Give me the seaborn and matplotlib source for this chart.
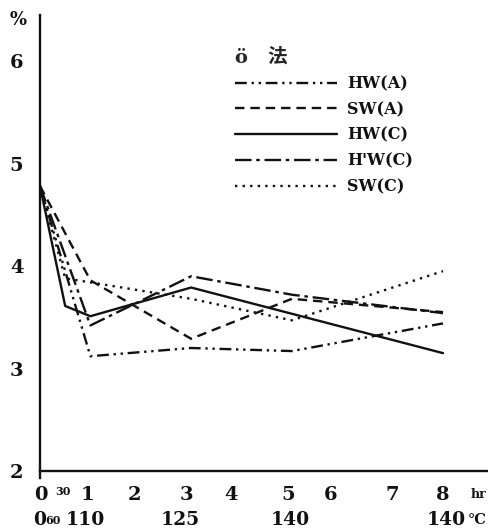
import numpy as np
import pandas as pd
import matplotlib
matplotlib.use("Agg")
import matplotlib.pyplot as plt
import matplotlib.transforms as mtransforms
import seaborn as sns
from matplotlib.font_manager import FontProperties

# ---------------- data ----------------
hours = [0, 0.5, 1, 3, 5, 8]
hw_a = [4.78, np.nan, 3.12, 3.20, 3.17, 3.44]
sw_a = [4.78, np.nan, 3.86, 3.29, 3.68, 3.55]
hw_c = [4.78, 3.61, 3.51, 3.79, np.nan, 3.15]
hw_c2 = [4.78, np.nan, 3.42, 3.90, 3.72, 3.54]
sw_c = [4.78, 3.88, np.nan, 3.68, 3.47, 3.95]
series_names = ["HW(A)", "SW(A)", "HW(C)", "H'W(C)", "SW(C)"]

hr_ticks = [0, 0.5, 1, 2, 3, 4, 5, 6, 7, 8]
hr_labels = ["0", "30", "1", "2", "3", "4", "5", "6", "7", "8"]
temp_pos = [0, 0.5, 1, 3, 5, 8]
temp_labels = ["0", "60", "110", "125", "140", "140"]
y_ticks = [2, 3, 4, 5, 6]
y_labels = ["2", "3", "4", "5", "6"]
legend_title = "ö   法"

# hand-set label nudges of the printed original (pixels)
hr_nudge = [1, -2, -3, -6, -5, -10, -4, -12, 0, 0]
temp_nudge = [0, -12, -5, -11, -2, 3]

# ---------------- style ----------------
sns.set_style("white")
plt.rcParams["font.family"] = ["DejaVu Serif", "Noto Sans CJK JP"]
plt.rcParams["font.weight"] = "bold"

rows = []
for name, vals in zip(series_names, [hw_a, sw_a, hw_c, hw_c2, sw_c]):
    for h, v in zip(hours, vals):
        if not np.isnan(v):
            rows.append((name, h, v))
df = pd.DataFrame(rows, columns=["series", "hr", "pct"])

dashes = {
    "HW(A)": (5, 2, 1, 2, 1, 2),
    "SW(A)": (4, 2.5),
    "HW(C)": "",
    "H'W(C)": (7, 2, 1.5, 2),
    "SW(C)": (1, 2.2),
}

W, H = 489, 532
fig = plt.figure(figsize=(W / 100, H / 100), dpi=100)
ax_left, ax_right, ax_top, ax_bot = 40, 489, 15, 478
ax = fig.add_axes([ax_left / W, 1 - ax_bot / H, (ax_right - ax_left) / W, (ax_bot - ax_top) / H])

ink = "#111111"
sns.lineplot(data=df, x="hr", y="pct", hue="series", style="series",
             hue_order=series_names, style_order=series_names,
             palette=[ink] * 5, dashes=dashes, linewidth=1.7,
             estimator=None, sort=True, ax=ax)

leg = ax.get_legend()
handles = list(leg.legend_handles)
labels = [t.get_text() for t in leg.texts]
leg.remove()
for h in handles:
    h.set_linewidth(1.7)
    h.set_color(ink)

px_per_unit = 102.5
ax.set_ylim(2 - (ax_bot - 471) / px_per_unit, 2 + (471 - ax_top) / px_per_unit)
px_per_hr = 50.375
ax.set_xlim(0, (ax_right - ax_left) / px_per_hr)

for s in ["top", "right"]:
    ax.spines[s].set_visible(False)
for s in ["left", "bottom"]:
    ax.spines[s].set_linewidth(1.7)
    ax.spines[s].set_color(ink)
ax.spines["bottom"].set_position(("data", 2))

ax.set_xlabel("")
ax.set_ylabel("")

ax.set_yticks(y_ticks)
ax.set_yticklabels(y_labels, fontsize=14, fontweight="bold", color=ink)
ax.tick_params(axis="y", length=0, pad=12)
ax.set_xticks(hr_ticks)
ax.set_xticklabels(hr_labels, fontsize=14, fontweight="bold", color=ink)
ax.tick_params(axis="x", length=0, pad=11)
ax.get_xticklabels()[1].set_fontsize(8)
for lab, dx in zip(ax.get_xticklabels(), hr_nudge):
    lab.set_transform(lab.get_transform() + mtransforms.ScaledTranslation(dx / 100, 0, fig.dpi_scale_trans))

# tick mark on "2"
t2 = ax.yaxis.get_major_ticks()[0]
t2.tick1line.set_markersize(14)
t2.tick1line.set_markeredgewidth(1.4)
t2.tick1line.set_color(ink)

xt = ax.get_xaxis_transform()
row2_y = (ax_bot - 520) / (ax_bot - ax_top)
for p, lab, dx in zip(temp_pos, temp_labels, temp_nudge):
    tr = xt + mtransforms.ScaledTranslation(dx / 100, 0, fig.dpi_scale_trans)
    ax.text(p, row2_y, lab, fontsize=8 if lab == "60" else 13.5, fontweight="bold",
            ha="center", va="center", transform=tr, color=ink, clip_on=False)
ax.text((478 - ax_left) / px_per_hr, (ax_bot - 494) / (ax_bot - ax_top), "hr", fontsize=9,
        fontweight="bold", ha="center", va="center", transform=xt, color=ink, clip_on=False)
ax.text((487 - ax_left) / px_per_hr, row2_y, "°C", fontsize=10.5, fontweight="bold",
        ha="right", va="center", transform=xt, color=ink, clip_on=False)

fig.text(18 / W, 1 - 20 / H, "%", fontsize=13, fontweight="bold", ha="center", va="center", color=ink)

title_fp = FontProperties(family=["DejaVu Serif", "Noto Sans CJK JP"], weight="bold", size=14)
lg = ax.legend(handles, labels, title=legend_title, title_fontproperties=title_fp,
               loc="upper left",
               bbox_to_anchor=((235 - ax_left) / (ax_right - ax_left), (ax_bot - 48) / (ax_bot - ax_top)),
               frameon=False, borderpad=0, borderaxespad=0,
               handlelength=6.4, handletextpad=0.6, labelspacing=0.55,
               alignment="left", prop=dict(size=11.5, weight="bold"))
for t in lg.texts:
    t.set_color(ink)

fig.savefig("out.png", dpi=100, facecolor="white")
